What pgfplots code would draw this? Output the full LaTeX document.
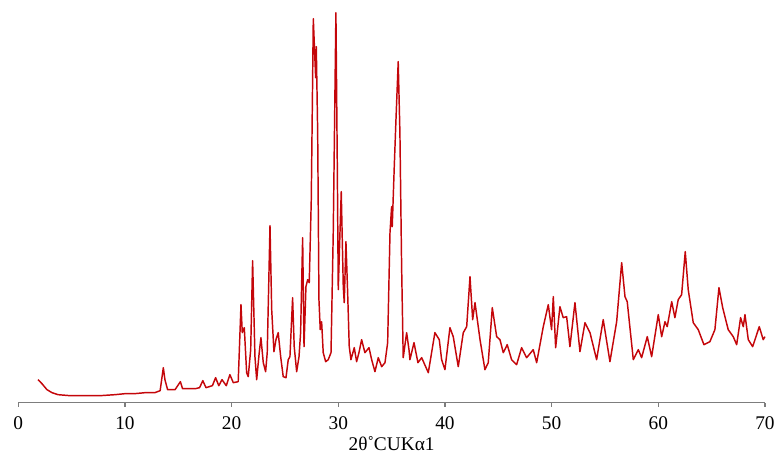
\documentclass[border=0pt]{standalone}
\usepackage{pgfplots}
\pgfplotsset{compat=1.18}
\usepackage{fontspec}
\setmainfont{Liberation Serif}
\definecolor{xrd}{RGB}{196,6,10}
\definecolor{axgray}{RGB}{125,125,125}
\pgfplotstableread{
tt I
1.85 23
2.22 19
2.69 13
3.16 10
3.72 8
4.85 7
6.25 7
7.66 7
9.07 8
10.0 9
10.9 9
11.9 10
12.8 10
13.3 12
13.6 35
13.75 23
14.0 13
14.7 13
15.2 21
15.4 14
16.6 14
17.0 15
17.3 22
17.6 15
18.2 17
18.5 25
18.8 17
19.1 23
19.5 17
19.84 28
20.16 20
20.62 21
20.88 98
21.0 70
21.19 75
21.41 30
21.56 26
21.79 53
21.97 142
22.19 46
22.35 23
22.59 50
22.75 65
22.97 40
23.19 31
23.34 50
23.6 177
23.76 93
23.97 51
24.16 63
24.37 70
24.6 46
24.84 26
25.1 25
25.31 43
25.47 46
25.72 105
25.87 56
26.1 31
26.32 46
26.47 70
26.66 165
26.79 56
26.97 116
27.13 123
27.28 120
27.47 203
27.66 384
27.88 325
27.94 356
28.07 270
28.19 103
28.31 73
28.44 81
28.59 50
28.82 41
29.06 43
29.32 50
29.53 170
29.78 390
29.91 236
30.0 113
30.16 170
30.28 211
30.47 116
30.56 100
30.72 161
30.88 110
31.03 56
31.19 43
31.5 55
31.72 41
31.94 50
32.19 63
32.5 50
32.88 55
33.13 43
33.44 31
33.75 45
34.07 36
34.38 40
34.63 60
34.85 170
35.0 196
35.06 176
35.25 236
35.41 283
35.62 341
35.78 270
35.94 136
36.09 45
36.41 70
36.63 53
36.72 43
37.1 60
37.47 40
37.82 45
38.44 30
39.06 70
39.47 63
39.69 43
40.0 33
40.47 75
40.78 66
41.25 36
41.72 70
42.04 76
42.35 126
42.6 83
42.82 100
43.29 63
43.75 33
44.06 40
44.44 95
44.85 66
45.16 63
45.47 50
45.84 58
46.25 43
46.72 38
47.19 55
47.66 45
48.28 53
48.6 40
49.22 76
49.69 98
50.0 73
50.16 106
50.38 55
50.78 96
51.09 85
51.41 86
51.72 56
52.19 100
52.66 51
53.13 80
53.6 70
54.22 43
54.84 83
55.47 41
56.1 81
56.57 140
56.88 106
57.09 101
57.66 43
58.13 53
58.44 45
58.97 66
59.38 46
60.0 88
60.32 66
60.63 81
60.84 76
61.26 101
61.56 85
61.87 103
62.19 108
62.53 151
62.81 113
63.28 80
63.75 73
64.28 58
64.84 61
65.31 73
65.69 115
66.04 95
66.56 73
67.03 66
67.35 58
67.72 85
67.97 76
68.13 88
68.44 63
68.85 56
69.47 76
69.84 63
70.0 66
}\xrd
\begin{document}
\begin{tikzpicture}[x=1pt,y=1pt]
\path[use as bounding box] (-13.7,-41.5) rectangle (572.8,302);
\begin{axis}[
  at={(0,0)}, anchor=south west,
  scale only axis, width=560pt, height=302pt,
  xmin=0, xmax=70, ymin=0, ymax=402.7,
  axis x line=bottom, axis y line=none,
  axis line style={-, axgray, line width=1pt},
  xtick={0,10,...,70},
  xtick align=outside,
  major tick length=3.2pt,
  tick style={axgray, line width=1pt},
  /pgf/number format/assume math mode=true,
  ticklabel style={font=\fontsize{14.5}{17}\selectfont, text=black, yshift=-3.5pt},
  xlabel={2θ˚CUKα1},
  xlabel style={font=\fontsize{14.5}{17}\selectfont, yshift=1.5pt},
  clip=false,
]
\addplot[xrd, line width=1.1pt, line join=round, mark=none] table[x=tt, y=I] {\xrd};
\end{axis}
\end{tikzpicture}
\end{document}
